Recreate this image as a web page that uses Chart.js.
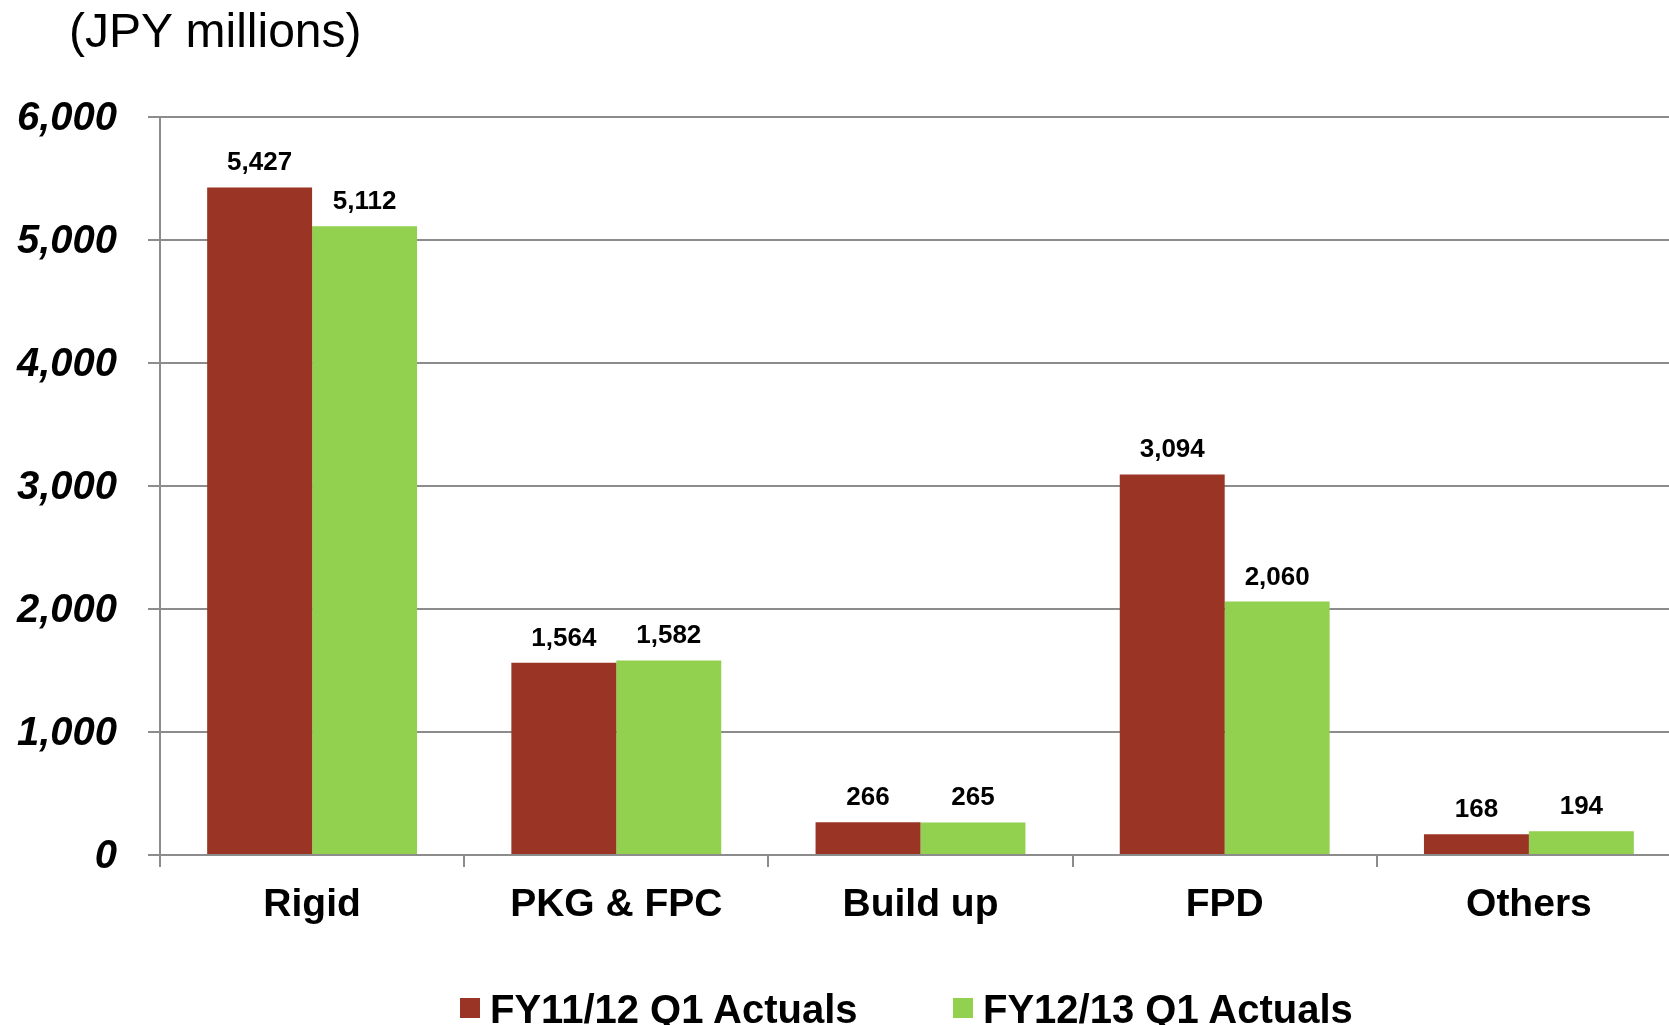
<!DOCTYPE html>
<html>
<head>
<meta charset="utf-8">
<script src="https://cdn.jsdelivr.net/npm/chart.js@4.4.1/dist/chart.umd.min.js"></script>
<style>
  html, body { margin: 0; padding: 0; background: #fff; overflow: hidden; }
  #wrap { position: relative; width: 1669px; height: 1025px; overflow: hidden; }
  #chart { position: absolute; left: 0; top: 0; }
  .title { position: absolute; left: 69px; top: 7px; font: 48px/48px "Liberation Sans", Arial, sans-serif; color: #000; white-space: nowrap; }
  .legend-box { position: absolute; top: 998px; width: 20px; height: 20px; }
  .legend-text { position: absolute; top: 989px; font: bold 40px/40px "Liberation Sans", Arial, sans-serif; color: #000; white-space: nowrap; }
</style>
</head>
<body>
<div id="wrap">
  <canvas id="chart" width="1700" height="1025"></canvas>
  <div class="title">(JPY millions)</div>
  <div id="legend"></div>
</div>
<script>
// values (JPY millions)
const categories = ['Rigid', 'PKG & FPC', 'Build up', 'FPD', 'Others']
const fy1112 = [5427, 1564, 266, 3094, 168]
const fy1213 = [5112, 1582, 265, 2060, 194]
const seriesNames = ['FY11/12 Q1 Actuals', 'FY12/13 Q1 Actuals']
const seriesColors = ['#9A3525', '#92D050']
const yMax = 6000
const yStep = 1000

const fontFamily = '"Liberation Sans", Arial, sans-serif'
const gridColor = '#8c8c8c'

// legend as plain html under the plot
const legendLeft = [460, 953]
const legend = document.getElementById('legend')
seriesNames.forEach((name, i) => {
  const box = document.createElement('div')
  box.className = 'legend-box'
  box.style.left = legendLeft[i] + 'px'
  box.style.background = seriesColors[i]
  const txt = document.createElement('div')
  txt.className = 'legend-text'
  txt.style.left = (legendLeft[i] + 30) + 'px'
  txt.textContent = name
  legend.appendChild(box)
  legend.appendChild(txt)
})

// numbers above each bar
const valueLabels = {
  id: 'valueLabels',
  afterDatasetsDraw(chart) {
    const ctx = chart.ctx
    ctx.save()
    ctx.font = 'bold 26px ' + fontFamily
    ctx.fillStyle = '#000'
    ctx.textAlign = 'center'
    ctx.textBaseline = 'alphabetic'
    chart.data.datasets.forEach((ds, i) => {
      chart.getDatasetMeta(i).data.forEach((bar, j) => {
        ctx.fillText(ds.data[j].toLocaleString('en-US'), bar.x, bar.y - 17)
      })
    })
    ctx.restore()
  }
}

new Chart(document.getElementById('chart'), {
  type: 'bar',
  data: {
    labels: categories,
    datasets: [
      { label: seriesNames[0], data: fy1112, backgroundColor: seriesColors[0] },
      { label: seriesNames[1], data: fy1213, backgroundColor: seriesColors[1] }
    ]
  },
  options: {
    responsive: false,
    animation: false,
    devicePixelRatio: 1,
    datasets: { bar: { categoryPercentage: 0.69, barPercentage: 1 } },
    layout: { padding: { top: 117, right: 19, left: 0, bottom: 0 } },
    plugins: {
      legend: { display: false },
      tooltip: { enabled: false }
    },
    scales: {
      x: {
        grid: { drawOnChartArea: false, drawTicks: true, tickLength: 12, color: gridColor, lineWidth: 2, offset: true },
        border: { color: gridColor, width: 2 },
        ticks: { color: '#000', padding: 15, font: { family: fontFamily, size: 39, weight: 'bold' } },
        afterFit(scale) { scale.height = 170 }
      },
      y: {
        min: 0,
        max: yMax,
        ticks: {
          stepSize: yStep,
          color: '#000',
          padding: 31,
          labelOffset: 2,
          font: { family: fontFamily, size: 40, weight: 'bold', style: 'italic' },
          callback: v => v.toLocaleString('en-US')
        },
        grid: { color: gridColor, lineWidth: 2, tickLength: 12 },
        border: { color: gridColor, width: 2 },
        afterFit(scale) { scale.width = 160 }
      }
    }
  },
  plugins: [valueLabels]
})
</script>
</body>
</html>
